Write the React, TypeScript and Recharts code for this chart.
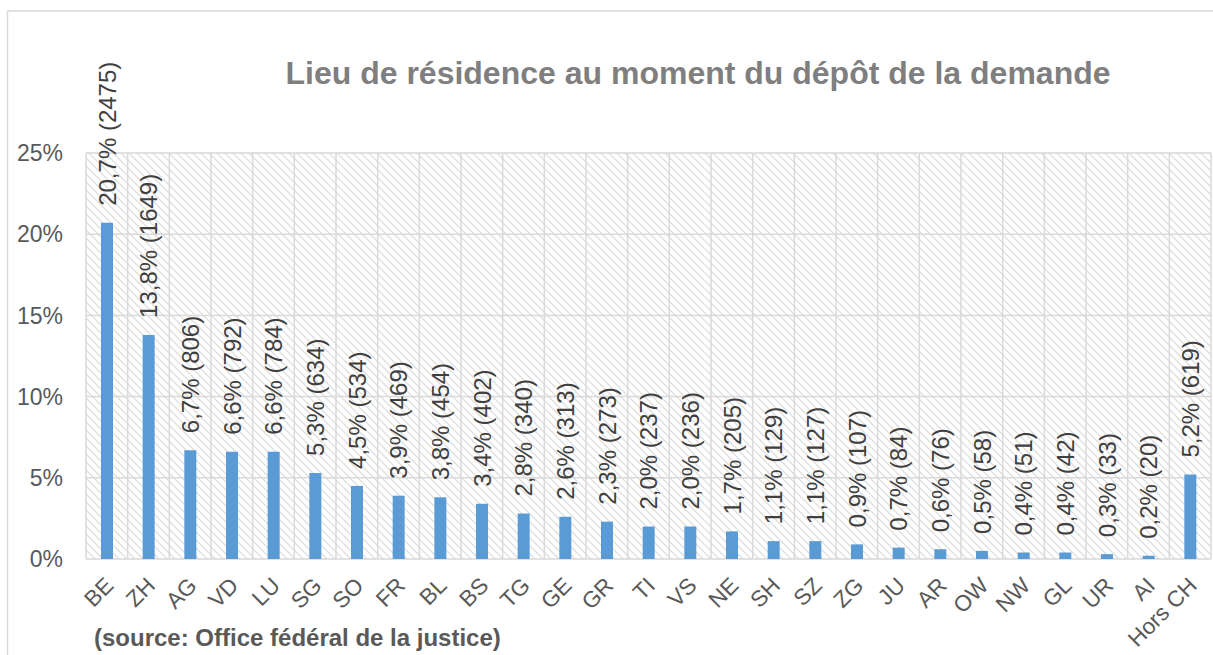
import { BarChart, Bar, XAxis, YAxis, CartesianGrid, LabelList } from 'recharts';

const cantons = [
  'BE', 'ZH', 'AG', 'VD', 'LU', 'SG', 'SO', 'FR', 'BL', 'BS', 'TG', 'GE', 'GR', 'TI',
  'VS', 'NE', 'SH', 'SZ', 'ZG', 'JU', 'AR', 'OW', 'NW', 'GL', 'UR', 'AI', 'Hors CH',
];
const shares = [
  20.7, 13.8, 6.7, 6.6, 6.6, 5.3, 4.5, 3.9, 3.8, 3.4, 2.8, 2.6, 2.3, 2.0,
  2.0, 1.7, 1.1, 1.1, 0.9, 0.7, 0.6, 0.5, 0.4, 0.4, 0.3, 0.2, 5.2,
];
const counts = [
  2475, 1649, 806, 792, 784, 634, 534, 469, 454, 402, 340, 313, 273, 237,
  236, 205, 129, 127, 107, 84, 76, 58, 51, 42, 33, 20, 619,
];
const yTicks = [0, 5, 10, 15, 20, 25];

const TITLE = 'Lieu de résidence au moment du dépôt de la demande';
const SOURCE = '(source: Office fédéral de la justice)';
const FONT = '"Liberation Sans", Arial, sans-serif';
const BAR_COLOR = '#5B9BD5';
const GRID_COLOR = '#d9d9d9';

const data = cantons.map((name, i) => ({
  name,
  share: shares[i],
  label: `${shares[i].toFixed(1).replace('.', ',')}% (${counts[i]})`,
}));

function BarLabel(props: any) {
  const { x, y, width, value } = props;
  const cx = Number(x) + Number(width) / 2;
  const ty = Number(y) - 17;
  return (
    <text
      transform={`translate(${cx},${ty}) rotate(-90)`}
      textAnchor="start"
      dominantBaseline="central"
      fontSize={24}
      fontFamily={FONT}
      fill="#404040"
    >
      {value}
    </text>
  );
}

function CantonTick(props: any) {
  const { x, y, payload } = props;
  return (
    <text
      transform={`translate(${x + 8},${y + 28}) rotate(-45)`}
      textAnchor="end"
      fontSize={22.5}
      fontFamily={FONT}
      fill="#595959"
    >
      {payload.value}
    </text>
  );
}

// vertical grid lines sit between categories, not on them
const categoryEdges = ({ offset }: any) => {
  const step = offset.width / cantons.length;
  return cantons.map((_, i) => offset.left + i * step).concat(offset.left + offset.width);
};

export default function App() {
  return (
    <div style={{ position: 'absolute', left: 0, top: 0, width: 1213, height: 655, background: '#fff' }}>
      <svg width={0} height={0} style={{ position: 'absolute' }}>
        <defs>
          <pattern id="hatch" patternUnits="userSpaceOnUse" width={8} height={8}>
            <path d="M-2,-2 L10,10 M-2,6 L2,10 M6,-2 L10,2" stroke="#dedede" strokeWidth={1.3} />
          </pattern>
        </defs>
      </svg>
      <BarChart
        width={1213}
        height={655}
        data={data}
        margin={{ top: 153, right: 2, bottom: 0, left: 0 }}
        barCategoryGap={0}
      >
        <CartesianGrid
          stroke={GRID_COLOR}
          strokeWidth={1.5}
          fill="url(#hatch)"
          fillOpacity={1}
          verticalCoordinatesGenerator={categoryEdges}
        />
        <XAxis
          dataKey="name"
          interval={0}
          height={96}
          axisLine={false}
          tickLine={false}
          tickSize={0}
          tickMargin={0}
          tick={<CantonTick />}
        />
        <YAxis
          width={86}
          domain={[0, 25]}
          ticks={yTicks}
          axisLine={false}
          tickLine={false}
          tickSize={0}
          tickMargin={23}
          tickFormatter={(v: number) => `${v}%`}
          tick={{ fontSize: 23, fontFamily: FONT, fill: '#595959' }}
        />
        <Bar dataKey="share" fill={BAR_COLOR} barSize={12} isAnimationActive={false}>
          <LabelList dataKey="label" content={<BarLabel />} />
        </Bar>
      </BarChart>
      <svg
        width={1213}
        height={655}
        style={{ position: 'absolute', left: 0, top: 0, pointerEvents: 'none' }}
      >
        <path d="M7.5,655 L7.5,11 L1213,11" fill="none" stroke={GRID_COLOR} strokeWidth={1.5} />
        <text
          x={698}
          y={84}
          textAnchor="middle"
          fontSize={32}
          fontWeight="bold"
          fontFamily={FONT}
          fill="#7f7f7f"
        >
          {TITLE}
        </text>
        <text x={94} y={646} fontSize={24} fontWeight="bold" fontFamily={FONT} fill="#595959">
          {SOURCE}
        </text>
      </svg>
    </div>
  );
}
